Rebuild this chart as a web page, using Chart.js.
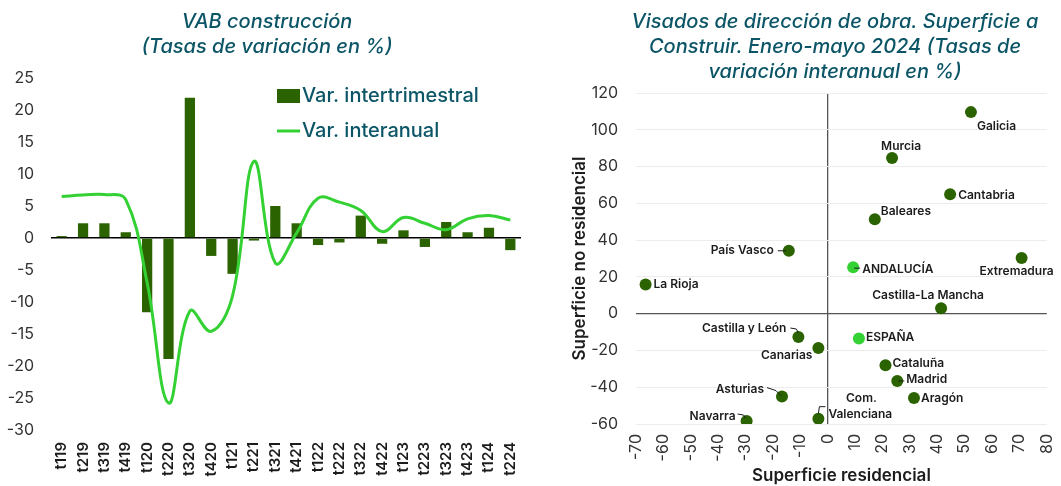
<!DOCTYPE html>
<html lang="es">
<head>
<meta charset="UTF-8">
<title>VAB construcción y visados de obra</title>
<script src="https://cdn.jsdelivr.net/npm/chart.js"></script>
<style>
  body { margin: 0; padding: 0; background: #fff; font-family: Inter, sans-serif; overflow: hidden; }
  .fila { display: flex; width: 1100px; height: 486px; }
  #izq { position: relative; width: 545px; height: 486px; }
  #der { position: relative; width: 531px; height: 486px; }
</style>
</head>
<body>
<div class="fila">
  <div id="izq"><canvas id="vab"></canvas></div>
  <div id="der"><canvas id="visados"></canvas></div>
</div>
<script>
// --- VAB construcción (tasas de variación en %) ---
const trimestres = ['t119','t219','t319','t419','t120','t220','t320','t420','t121','t221','t321',
                    't421','t122','t222','t322','t422','t123','t223','t323','t423','t124','t224'];
const varIntertrimestral = [0.3, 2.3, 2.3, 0.9, -11.6, -18.9, 21.9, -2.8, -5.6, -0.4, 5.0,
                            2.3, -1.1, -0.7, 3.5, -0.9, 1.2, -1.4, 2.5, 0.9, 1.6, -1.9];
const varInteranual = [6.5, 6.7, 6.8, 6.0, -7.0, -25.8, -11.4, -14.6, -9.0, 12.0, -3.9,
                       0.8, 6.2, 5.6, 4.3, 1.0, 3.2, 2.3, 1.3, 3.0, 3.5, 2.8];
const tituloVab = ['VAB construcción', '(Tasas de variación en %)'];

// --- Visados de dirección de obra, enero-mayo 2024 ---
const regiones = ['Galicia','Murcia','Cantabria','Baleares','País Vasco','ANDALUCÍA','Extremadura',
                  'La Rioja','Castilla-La Mancha','Castilla y León','Canarias','ESPAÑA','Cataluña',
                  'Madrid','Aragón','Asturias','Navarra','Com. Valenciana'];
const supResidencial = [52.3, 23.5, 44.7, 17.2, -14.2, 9.3, 70.8, -66.5, 41.4, -10.7, -3.4, 11.4,
                        21.1, 25.4, 31.5, -16.7, -29.6, -3.4];
const supNoResidencial = [109.6, 84.7, 64.9, 51.3, 34.2, 25.3, 30.3, 15.8, 2.9, -12.7, -18.7, -13.5,
                          -28.0, -36.6, -45.8, -45.1, -58.4, -57.1];
const destacados = ['ANDALUCÍA', 'ESPAÑA'];
const tituloVisados = ['Visados de dirección de obra. Superficie a',
                       'Construir. Enero-mayo 2024 (Tasas de',
                       'variación interanual en %)'];

const TEAL = '#0b5566';
const VERDE_OSCURO = '#2b6300';
const VERDE_CLARO = '#34d134';

// colocación de las etiquetas respecto a cada punto (px)
const colocacion = {
  'Galicia':            { partes: [{ dx: 6, dy: 14, al: 'left' }] },
  'Murcia':             { partes: [{ dx: 9, dy: -12, al: 'center' }] },
  'Cantabria':          { partes: [{ dx: 8, dy: 1, al: 'left' }] },
  'Baleares':           { partes: [{ dx: 6, dy: -8, al: 'left' }] },
  'País Vasco':         { partes: [{ dx: -15, dy: 0, al: 'right' }], guia: [[-11, 0], [-3, 0]] },
  'ANDALUCÍA':          { partes: [{ dx: 9, dy: 2, al: 'left' }], guia: [[1, 1], [7, 1]] },
  'Extremadura':        { partes: [{ dx: -5, dy: 13, al: 'center' }] },
  'La Rioja':           { partes: [{ dx: 8, dy: 0, al: 'left' }] },
  'Castilla-La Mancha': { partes: [{ dx: -13, dy: -13, al: 'center' }] },
  'Castilla y León':    { partes: [{ dx: -12, dy: -9, al: 'right' }], guia: [[-8, -9], [-2, -8], [0, -4]] },
  'Canarias':           { partes: [{ dx: -6, dy: 7, al: 'right' }] },
  'ESPAÑA':             { partes: [{ dx: 7, dy: -1, al: 'left' }] },
  'Cataluña':           { partes: [{ dx: 7, dy: -2, al: 'left' }] },
  'Madrid':             { partes: [{ dx: 9, dy: -2, al: 'left' }], guia: [[1, 0], [7, 0]] },
  'Aragón':             { partes: [{ dx: 7, dy: 1, al: 'left' }] },
  'Asturias':           { partes: [{ dx: -18, dy: -7, al: 'right' }], guia: [[-15, -9], [-6, -6], [-1, -1]] },
  'Navarra':            { partes: [{ dx: -11, dy: -5, al: 'right' }], guia: [[-9, -7], [-3, -6], [-1, -3]] },
  'Com. Valenciana':    { partes: [{ dx: 43, dy: -20, al: 'center' }, { dx: 10, dy: -4, al: 'left' }],
                          guia: [[0, -5], [1, -12], [7, -12]] }
};

// Título de varias líneas dibujado sobre el lienzo
function crearTitulo(lineas, cx, top) {
  return {
    id: 'tituloLineas',
    afterDraw(chart) {
      const ctx = chart.ctx;
      ctx.save();
      ctx.font = 'italic 500 20px Inter, sans-serif';
      ctx.fillStyle = TEAL;
      ctx.textAlign = 'center';
      ctx.textBaseline = 'middle';
      lineas.forEach((t, i) => ctx.fillText(t, cx, top + i * 25));
      ctx.restore();
    }
  };
}

// Leyenda dentro del área del gráfico
const leyendaDentro = {
  id: 'leyendaDentro',
  afterDraw(chart) {
    const { ctx, chartArea } = chart;
    const x = chartArea.left + 226;
    ctx.save();
    ctx.font = '500 20px Inter, sans-serif';
    ctx.textBaseline = 'middle';
    chart.data.datasets.forEach((ds, i) => {
      const y = chartArea.top + 18 + i * 35;
      if (ds.type === 'bar') {
        ctx.fillStyle = ds.backgroundColor;
        ctx.fillRect(x, y - 7, 23, 14);
      } else {
        ctx.strokeStyle = ds.borderColor;
        ctx.lineWidth = 3;
        ctx.beginPath();
        ctx.moveTo(x, y);
        ctx.lineTo(x + 23, y);
        ctx.stroke();
      }
      ctx.fillStyle = TEAL;
      ctx.fillText(ds.label, x + 25, y);
    });
    ctx.restore();
  }
};

// Etiquetas de las comunidades con sus líneas guía
const etiquetasPuntos = {
  id: 'etiquetasPuntos',
  afterDatasetsDraw(chart) {
    const ctx = chart.ctx;
    const meta = chart.getDatasetMeta(0);
    ctx.save();
    ctx.font = '600 12px Inter, sans-serif';
    ctx.fillStyle = '#1c1c1c';
    ctx.strokeStyle = '#1c1c1c';
    ctx.lineWidth = 1;
    ctx.textBaseline = 'middle';
    regiones.forEach((nombre, i) => {
      const p = meta.data[i];
      const c = colocacion[nombre];
      if (c.guia) {
        ctx.beginPath();
        c.guia.forEach(([gx, gy], k) => k ? ctx.lineTo(p.x + gx, p.y + gy) : ctx.moveTo(p.x + gx, p.y + gy));
        ctx.stroke();
      }
      const textos = c.partes.length > 1 ? nombre.split(' ') : [nombre];
      c.partes.forEach((pt, k) => {
        ctx.textAlign = pt.al;
        ctx.fillText(textos[k], p.x + pt.dx, p.y + pt.dy);
      });
    });
    ctx.restore();
  }
};

Chart.defaults.font.family = 'Inter, sans-serif';
Chart.defaults.animation = false;

new Chart(document.getElementById('vab'), {
  data: {
    labels: trimestres,
    datasets: [
      {
        type: 'bar',
        label: 'Var. intertrimestral',
        data: varIntertrimestral,
        backgroundColor: VERDE_OSCURO,
        categoryPercentage: 1,
        barPercentage: 0.48,
        order: 1
      },
      {
        type: 'line',
        label: 'Var. interanual',
        data: varInteranual,
        borderColor: VERDE_CLARO,
        borderWidth: 3,
        tension: 0.4,
        pointRadius: 0,
        fill: false,
        order: 0
      }
    ]
  },
  options: {
    responsive: true,
    maintainAspectRatio: false,
    layout: { padding: { top: 78, left: 0, right: 24, bottom: 0 } },
    plugins: { legend: { display: false }, tooltip: { enabled: false } },
    scales: {
      x: {
        grid: { display: false, drawTicks: false },
        border: { display: false },
        afterFit: s => { s.height = 56; },
        ticks: { autoSkip: false, minRotation: 90, maxRotation: 90, padding: 12, color: '#1c1c1c',
                 font: { size: 15, weight: '600' } }
      },
      y: {
        min: -30,
        max: 25,
        border: { display: false },
        afterFit: s => { s.width = 51; },
        grid: { drawTicks: false, lineWidth: 1.5, color: c => c.tick.value === 0 ? '#000' : 'transparent' },
        ticks: { stepSize: 5, padding: 17, color: '#333', font: { size: 16 } }
      }
    }
  },
  plugins: [leyendaDentro, crearTitulo(tituloVab, 267, 22)]
});

new Chart(document.getElementById('visados'), {
  type: 'scatter',
  data: {
    datasets: [{
      label: 'Comunidades',
      data: regiones.map((r, i) => ({ x: supResidencial[i], y: supNoResidencial[i] })),
      backgroundColor: regiones.map(r => destacados.includes(r) ? VERDE_CLARO : VERDE_OSCURO),
      borderWidth: 0,
      pointRadius: 6
    }]
  },
  options: {
    responsive: true,
    maintainAspectRatio: false,
    layout: { padding: { top: 93, left: 25, right: 0, bottom: 0 } },
    plugins: { legend: { display: false }, tooltip: { enabled: false } },
    scales: {
      x: {
        min: -70,
        max: 80,
        border: { display: false },
        afterFit: s => { s.height = 62; },
        grid: { drawTicks: false, lineWidth: 1.3, color: c => c.tick.value === 0 ? '#555' : 'transparent' },
        ticks: { stepSize: 10, minRotation: 90, maxRotation: 90, padding: 10, color: '#333', font: { size: 16 } },
        title: { display: true, text: 'Superficie residencial', color: '#1c1c1c', padding: { top: 0, bottom: 0 },
                 font: { size: 17, weight: '600' } }
      },
      y: {
        min: -60,
        max: 120,
        border: { display: false },
        afterFit: s => { s.width = 66; },
        grid: { drawTicks: false, lineWidth: c => c.tick.value === 0 ? 1.3 : 1,
                color: c => c.tick.value === 0 ? '#555' : '#ececec' },
        ticks: { stepSize: 20, padding: 18, color: '#333', font: { size: 16 } },
        title: { display: true, text: 'Superficie no residencial', color: '#1c1c1c', padding: { top: 0, bottom: 0 },
                 font: { size: 17, weight: '600' } }
      }
    }
  },
  plugins: [etiquetasPuntos, crearTitulo(tituloVisados, 290, 22)]
});
</script>
</body>
</html>
